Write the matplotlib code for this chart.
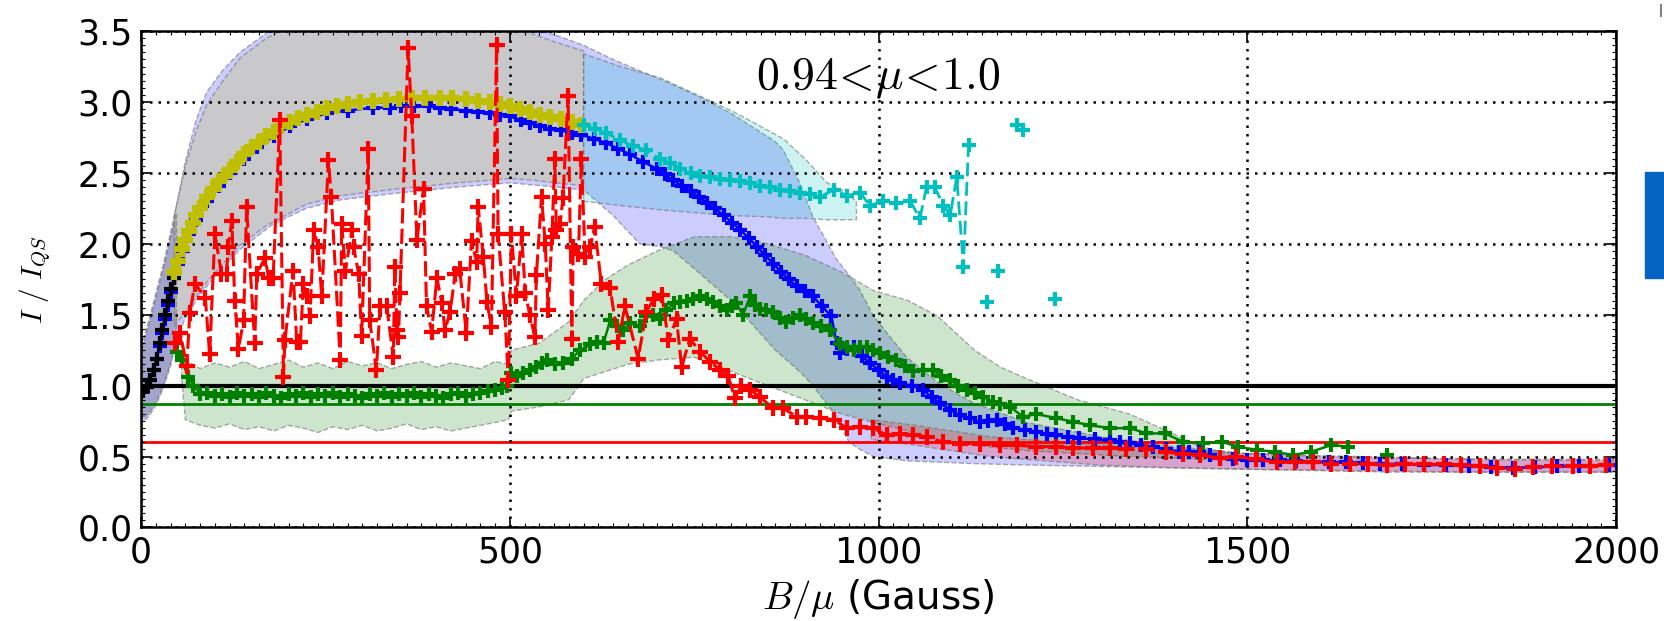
import numpy as np
import matplotlib
matplotlib.use("Agg")
from matplotlib import pyplot as plt
from matplotlib.patches import Rectangle
from matplotlib.lines import Line2D

plt.rcParams['mathtext.fontset'] = 'cm'
plt.rcParams['font.family'] = 'DejaVu Sans'

# ---- data (I/I_QS against B/mu) ----
black_x = [3, 8, 12, 17, 21, 25, 29, 33, 37, 41, 45]
black_y = [0.96, 0.99, 1.04, 1.11, 1.19, 1.30, 1.39, 1.50, 1.60, 1.68, 1.76]

yellow_x = [45, 50, 55, 60, 65, 70, 75, 80, 89, 97, 105, 113, 120, 130, 140, 150,
            160, 170, 180, 190, 202, 213, 225, 238, 252, 265, 280, 297, 315, 332,
            350, 367, 385, 405, 422, 440, 457, 473, 487, 500, 514, 527, 541, 555,
            570, 584, 597]
yellow_y = [1.80, 1.88, 1.96, 2.03, 2.09, 2.15, 2.20, 2.25, 2.33, 2.39, 2.44, 2.48,
            2.52, 2.58, 2.63, 2.68, 2.72, 2.76, 2.79, 2.83, 2.86, 2.89, 2.91, 2.93,
            2.955, 2.97, 2.985, 3.00, 3.01, 3.015, 3.02, 3.025, 3.03, 3.03, 3.025,
            3.02, 3.01, 3.00, 2.985, 2.97, 2.95, 2.93, 2.91, 2.895, 2.88, 2.86, 2.84]

blue_x = [3, 8, 12, 17, 21, 25, 29, 33, 37, 41, 45, 50, 57, 65, 75, 89, 105, 120,
          140, 157, 180, 202, 225, 252, 280, 315, 337, 352, 370, 390, 405, 420, 440,
          457, 473, 487, 500, 515, 527, 541, 555, 570, 584, 597, 614, 631, 647, 663,
          680, 699, 710, 721, 733, 745, 756, 767, 778, 790, 801, 812, 824, 835, 846,
          857, 868, 878, 889, 900, 911, 923, 936, 943, 948, 957, 966, 977, 988, 1000,
          1011, 1020, 1029, 1045, 1060, 1072, 1083, 1097, 1110, 1124, 1137, 1148,
          1160, 1171, 1182, 1198, 1214, 1228, 1241, 1257, 1272, 1293, 1314, 1327,
          1341, 1356, 1372, 1390, 1408, 1421, 1435, 1449, 1463, 1481, 1499, 1521,
          1544, 1566, 1589, 1611, 1634, 1657, 1680, 1710, 1740, 1770, 1800, 1830,
          1860, 1890, 1920, 1950, 1990]
blue_y = [0.96, 0.99, 1.04, 1.11, 1.19, 1.28, 1.37, 1.47, 1.57, 1.66, 1.76, 1.86,
          1.95, 2.07, 2.17, 2.30, 2.41, 2.50, 2.60, 2.68, 2.76, 2.83, 2.88, 2.92,
          2.94, 2.96, 2.96, 2.97, 2.97, 2.97, 2.96, 2.95, 2.94, 2.93, 2.92, 2.91,
          2.90, 2.87, 2.85, 2.83, 2.81, 2.80, 2.78, 2.77, 2.74, 2.71, 2.67, 2.63,
          2.58, 2.53, 2.49, 2.45, 2.41, 2.37, 2.33, 2.29, 2.25, 2.20, 2.15, 2.10,
          2.04, 1.98, 1.92, 1.86, 1.80, 1.75, 1.70, 1.67, 1.63, 1.56, 1.49, 1.30,
          1.23, 1.26, 1.27, 1.21, 1.16, 1.11, 1.06, 1.04, 1.02, 1.00, 0.97, 0.92,
          0.875, 0.83, 0.79, 0.77, 0.745, 0.75, 0.757, 0.73, 0.70, 0.69, 0.675,
          0.66, 0.65, 0.64, 0.63, 0.62, 0.616, 0.60, 0.593, 0.58, 0.57, 0.55, 0.534,
          0.534, 0.534, 0.51, 0.487, 0.48, 0.475, 0.475, 0.475, 0.47, 0.463, 0.46,
          0.46, 0.455, 0.45, 0.445, 0.44, 0.44, 0.43, 0.425, 0.42, 0.425, 0.43,
          0.435, 0.44]

cyan_x = [600, 615, 631, 650, 667, 685, 703, 717, 731, 745, 758, 772, 785, 799,
          812, 826, 839, 853, 866, 880, 893, 907, 920, 939, 957, 975, 988, 1006,
          1024, 1043, 1056, 1065, 1076, 1088, 1097, 1106, 1115, 1122]
cyan_y = [2.84, 2.81, 2.78, 2.73, 2.69, 2.66, 2.60, 2.57, 2.53, 2.50, 2.48, 2.47,
          2.46, 2.45, 2.44, 2.43, 2.41, 2.40, 2.38, 2.37, 2.36, 2.35, 2.33, 2.38,
          2.34, 2.36, 2.27, 2.30, 2.285, 2.30, 2.18, 2.40, 2.40, 2.27, 2.20, 2.47,
          1.84, 2.70]
cyan_pts_x = [1147, 1162, 1187, 1196, 1239]
cyan_pts_y = [1.59, 1.81, 2.84, 2.80, 1.61]

green_x = [48, 55, 64, 71, 80, 90, 100, 110, 120, 130, 140, 150, 160, 170, 180,
           190, 200, 210, 220, 230, 240, 250, 260, 270, 280, 290, 300, 310, 320,
           330, 340, 350, 360, 370, 380, 390, 400, 410, 420, 430, 440, 450, 460,
           470, 480, 490, 496, 502, 510, 518, 527, 536, 543, 550, 561, 572, 584,
           595, 609, 618, 627, 636, 645, 654, 663, 676, 685, 694, 703, 712, 722,
           731, 740, 749, 758, 767, 776, 785, 794, 801, 807, 816, 826, 832, 839,
           848, 857, 866, 875, 884, 893, 902, 911, 922, 934, 948, 957, 966, 975,
           984, 993, 1002, 1013, 1024, 1036, 1047, 1060, 1074, 1085, 1097, 1108,
           1120, 1131, 1142, 1155, 1165, 1178, 1196, 1214, 1241, 1264, 1287, 1314,
           1341, 1363, 1388, 1413, 1440, 1465, 1488, 1513, 1537, 1562, 1587, 1614,
           1637, 1660, 1689]
green_y = [1.24, 1.18, 1.06, 1.00, 0.94, 0.95, 0.93, 0.94, 0.92, 0.95, 0.93, 0.94,
           0.92, 0.95, 0.93, 0.91, 0.94, 0.93, 0.95, 0.92, 0.94, 0.93, 0.95, 0.92,
           0.94, 0.93, 0.91, 0.94, 0.93, 0.95, 0.92, 0.94, 0.93, 0.95, 0.92, 0.94,
           0.93, 0.91, 0.94, 0.95, 0.93, 0.94, 0.95, 0.96, 0.97, 0.98, 1.00, 1.09,
           1.07, 1.09, 1.11, 1.13, 1.16, 1.18, 1.15, 1.16, 1.19, 1.25, 1.29, 1.31,
           1.30, 1.46, 1.42, 1.39, 1.44, 1.42, 1.49, 1.50, 1.47, 1.53, 1.58, 1.59,
           1.60, 1.61, 1.63, 1.61, 1.59, 1.56, 1.53, 1.56, 1.58, 1.50, 1.63, 1.57,
           1.54, 1.53, 1.52, 1.48, 1.45, 1.48, 1.50, 1.47, 1.44, 1.42, 1.39, 1.29,
           1.27, 1.25, 1.27, 1.27, 1.25, 1.23, 1.20, 1.18, 1.14, 1.10, 1.11, 1.11,
           1.07, 1.04, 1.00, 0.97, 0.95, 0.92, 0.886, 0.87, 0.851, 0.78, 0.80, 0.77,
           0.745, 0.72, 0.70, 0.70, 0.663, 0.663, 0.604, 0.593, 0.604, 0.569, 0.546,
           0.534, 0.51, 0.534, 0.581, 0.569, np.nan, 0.51]

red_x = [46, 53, 62, 66, 73, 87, 93, 100, 109, 116, 118, 123, 127, 132, 139, 143,
         154, 157, 168, 173, 179, 188, 193, 195, 206, 211, 216, 220, 225, 229, 234,
         240, 245, 254, 258, 270, 272, 277, 286, 288, 295, 299, 308, 310, 319, 324,
         333, 342, 344, 347, 349, 351, 362, 367, 374, 383, 387, 394, 401, 408, 412,
         419, 426, 432, 441, 448, 455, 457, 464, 469, 475, 482, 484, 493, 498, 502,
         509, 516, 521, 527, 534, 536, 543, 548, 552, 557, 561, 563, 568, 572, 579,
         584, 586, 593, 597, 602, 609, 615, 624, 636, 647, 656, 674, 685, 695, 706,
         715, 726, 733, 744, 758, 771, 785, 796, 805, 814, 826, 839, 857, 871, 889,
         902, 920, 939, 957, 975, 993, 1011, 1029, 1047, 1065, 1088, 1110, 1137,
         1164, 1187, 1214, 1241, 1264, 1291, 1314, 1336, 1363, 1390, 1413, 1436,
         1463, 1485, 1512, 1540, 1564, 1589, 1614, 1639, 1664, 1689, 1714, 1740,
         1766, 1790, 1815, 1838, 1863, 1888, 1913, 1942, 1965, 1987]
red_y = [1.30, 1.37, 1.14, 1.51, 1.72, 1.62, 1.22, 2.07, 1.79, 1.79, 1.98, 2.16,
         1.60, 1.26, 1.46, 2.26, 1.30, 1.79, 1.90, 1.76, 1.76, 2.87, 1.06, 1.32,
         1.81, 1.31, 1.31, 1.72, 1.63, 1.49, 2.10, 1.98, 1.63, 2.59, 2.33, 1.18,
         2.14, 1.81, 2.10, 1.98, 1.79, 1.35, 2.67, 1.46, 1.11, 1.56, 1.56, 1.20,
         1.84, 1.39, 1.34, 1.65, 3.38, 2.90, 2.03, 2.39, 1.56, 1.38, 1.76, 1.58,
         1.39, 1.52, 1.79, 1.82, 1.37, 2.02, 1.87, 2.26, 1.91, 1.59, 1.41, 3.40,
         2.07, 1.52, 1.04, 2.07, 1.63, 2.07, 1.65, 1.50, 1.34, 1.78, 2.33, 2.00,
         1.53, 2.05, 2.60, 2.10, 2.14, 2.32, 3.04, 1.33, 1.98, 1.93, 2.60, 1.91,
         1.98, 2.12, 1.72, 1.69, 1.31, 1.56, 1.19, 1.52, 1.61, 1.64, 1.32, 1.47,
         1.13, 1.33, 1.24, 1.17, 1.11, 1.07, 0.91, 1.00, 0.97, 0.92, 0.84, 0.84,
         0.78, 0.78, 0.77, 0.76, 0.70, 0.71, 0.70, 0.65, 0.66, 0.65, 0.64, 0.60,
         0.59, 0.59, 0.58, 0.58, 0.57, 0.57, 0.56, 0.56, 0.56, 0.55, 0.55, 0.53,
         0.52, 0.51, 0.49, 0.50, 0.48, 0.46, 0.46, 0.46, 0.45, 0.45, 0.45, 0.44,
         0.445, 0.445, 0.445, 0.44, 0.43, 0.42, 0.415, 0.425, 0.43, 0.43, 0.435,
         0.44]

# spread bands (lower / upper envelopes)
black_band_x = [0, 10, 20, 30, 40, 48]
black_band_lo = [0.76, 0.80, 0.88, 1.00, 1.16, 1.34]
black_band_hi = [1.25, 1.42, 1.62, 1.82, 2.05, 2.22]

blue_band_x = [0, 10, 20, 30, 40, 48, 60, 75, 89, 110, 134, 179, 224, 270, 351,
               428, 500, 563, 600, 640, 676, 704, 722, 760, 800, 860, 871, 893,
               911, 943, 960, 975, 993, 1038, 1083, 1128, 1200, 1300, 1400, 1500,
               1650, 1800, 2000]
blue_band_lo = [0.74, 0.78, 0.86, 0.98, 1.14, 1.32, 1.48, 1.60, 1.70, 1.83, 1.96,
                2.14, 2.25, 2.31, 2.36, 2.40, 2.43, 2.40, 2.38, 2.20, 2.00, 1.98,
                1.95, 1.78, 1.60, 1.25, 1.20, 1.10, 1.00, 0.78, 0.60, 0.55, 0.50,
                0.47, 0.46, 0.45, 0.44, 0.43, 0.42, 0.41, 0.40, 0.39, 0.39]
blue_band_hi = [1.28, 1.45, 1.65, 1.85, 2.08, 2.27, 2.58, 2.88, 3.07, 3.22, 3.35,
                3.52, 3.62, 3.70, 3.70, 3.65, 3.56, 3.47, 3.40, 3.30, 3.22, 3.16,
                3.12, 3.03, 2.92, 2.72, 2.66, 2.43, 2.19, 1.89, 1.78, 1.67, 1.49,
                1.20, 1.01, 0.88, 0.74, 0.64, 0.57, 0.52, 0.50, 0.48, 0.47]

yellow_band_x = [45, 60, 75, 89, 111, 134, 170, 224, 270, 351, 428, 500, 530, 563,
                 600]
yellow_band_lo = [1.42, 1.52, 1.63, 1.73, 1.86, 1.99, 2.13, 2.28, 2.34, 2.39, 2.43,
                  2.46, 2.45, 2.43, 2.41]
yellow_band_hi = [2.20, 2.55, 2.80, 2.98, 3.15, 3.31, 3.45, 3.60, 3.65, 3.65, 3.60,
                  3.55, 3.48, 3.42, 3.36]

cyan_band_x = [600, 650, 704, 750, 800, 850, 871, 902, 930, 950, 970]
cyan_band_lo = [2.30, 2.27, 2.24, 2.22, 2.20, 2.19, 2.18, 2.18, 2.17, 2.17, 2.17]
cyan_band_hi = [3.34, 3.25, 3.17, 3.06, 2.94, 2.80, 2.74, 2.59, 2.43, 2.38, 2.30]

green_band_x = [55, 60, 80, 100, 120, 140, 160, 180, 200, 220, 240, 260, 280, 300,
                320, 340, 360, 380, 400, 420, 440, 460, 480, 498, 502, 540, 580,
                600, 630, 660, 700, 750, 800, 850, 900, 950, 993, 1040, 1080, 1130,
                1165, 1205, 1270, 1340, 1400, 1430, 1460, 1490]
green_band_lo = [1.05, 0.76, 0.72, 0.70, 0.73, 0.69, 0.71, 0.68, 0.72, 0.70, 0.67,
                 0.71, 0.69, 0.72, 0.68, 0.70, 0.73, 0.69, 0.71, 0.68, 0.70, 0.72,
                 0.74, 0.76, 0.82, 0.85, 0.90, 1.05, 1.10, 1.15, 1.18, 1.20, 1.10,
                 1.00, 0.90, 0.80, 0.74, 0.68, 0.62, 0.58, 0.56, 0.54, 0.52, 0.50,
                 0.49, 0.48, 0.48, 0.48]
green_band_hi = [1.30, 1.18, 1.12, 1.16, 1.13, 1.17, 1.12, 1.15, 1.18, 1.13, 1.16,
                 1.12, 1.17, 1.14, 1.16, 1.12, 1.15, 1.17, 1.13, 1.16, 1.14, 1.12,
                 1.17, 1.15, 1.25, 1.30, 1.45, 1.60, 1.75, 1.85, 1.95, 2.05, 2.05,
                 2.00, 1.92, 1.80, 1.67, 1.60, 1.49, 1.25, 1.13, 1.04, 0.90, 0.80,
                 0.66, 0.58, 0.54, 0.52]

red_band_x = [990, 1050, 1100, 1150, 1200, 1250, 1300, 1400, 1500, 1600, 1700,
              1850, 2000]
red_band_lo = [0.62, 0.58, 0.54, 0.50, 0.48, 0.46, 0.44, 0.42, 0.41, 0.40, 0.39,
               0.39, 0.39]
red_band_hi = [0.76, 0.72, 0.68, 0.64, 0.62, 0.60, 0.58, 0.55, 0.52, 0.50, 0.49,
               0.48, 0.48]

# reference levels
level_black = 1.0
level_green = 0.87
level_red = 0.6

x_ticks = [0, 500, 1000, 1500, 2000]
y_ticks = [0.0, 0.5, 1.0, 1.5, 2.0, 2.5, 3.0, 3.5]

# ---- plotting ----
fig = plt.figure(figsize=(16.64, 6.21), dpi=100)
ax = fig.add_axes([0.0848, 0.1507, 0.8864, 0.7992])

edge = (0.45, 0.45, 0.45, 0.6)
bands = [
    (blue_band_x, blue_band_lo, blue_band_hi, 'b'),
    (black_band_x, black_band_lo, black_band_hi, 'k'),
    (yellow_band_x, yellow_band_lo, yellow_band_hi, 'y'),
    (cyan_band_x, cyan_band_lo, cyan_band_hi, 'c'),
    (green_band_x, green_band_lo, green_band_hi, 'g'),
    (red_band_x, red_band_lo, red_band_hi, 'r'),
]
for bx, lo, hi, c in bands:
    fc = matplotlib.colors.to_rgba(c, 0.2)
    ax.fill_between(bx, lo, hi, facecolor=fc, edgecolor=edge,
                    linestyle='--', linewidth=1.0, zorder=1)

ax.axhline(level_black, color='k', lw=3, zorder=2)
ax.axhline(level_green, color='g', lw=2, zorder=2)
ax.axhline(level_red, color='r', lw=2, zorder=2)

mk = dict(marker='+', markersize=10, markeredgewidth=3)
ax.plot(blue_x, blue_y, '-', color='b', lw=1.8, zorder=3, **mk)
ax.plot(black_x, black_y, '-', color='k', lw=1.8, zorder=4, **mk)
ax.plot(yellow_x, yellow_y, '-', color='y', lw=2, zorder=4,
        marker='+', markersize=12, markeredgewidth=4.5)
ax.plot(cyan_x, cyan_y, color='c', lw=2, linestyle=(0, (5, 2)), zorder=4, **mk)
ax.plot(cyan_pts_x, cyan_pts_y, linestyle='none', color='c', zorder=4, **mk)
ax.plot(green_x, green_y, '-', color='g', lw=1.8, zorder=5, **mk)
ax.plot(red_x, red_y, color='r', lw=2.2, linestyle=(0, (5, 1.7)), zorder=6,
        marker='+', markersize=11, markeredgewidth=3)

ax.text(1000, 3.17, r'$0.94\!<\!\mu\!<\!1.0$', fontsize=33, ha='center',
        va='center', zorder=7)

ax.set_xlim(0, 2000)
ax.set_ylim(0, 3.5)
ax.set_xticks(x_ticks)
ax.set_yticks(y_ticks)
ax.set_xticks(np.arange(0, 2001, 20), minor=True)
ax.set_yticks(np.arange(0, 3.51, 0.05), minor=True)
ax.tick_params(which='both', direction='in', top=True, right=True,
               labelsize=25)
ax.tick_params(which='major', length=7, width=1.2, pad=6)
ax.tick_params(which='minor', length=3, width=0.8)
ax.grid(True, which='major', color='k', linestyle=(0, (1, 2.4)), linewidth=1.8)
for s in ax.spines.values():
    s.set_linewidth(1.8)
ax.set_axisbelow(False)

ax.set_xlabel(r'$B/\mu$ (Gauss)', fontsize=28)
ax.xaxis.set_label_coords(0.5, -0.1)
ax.set_ylabel(r'$I\ /\ I_{QS}$', fontsize=21)
ax.yaxis.set_label_coords(-0.06, 0.5)

# small marks at the right edge of the canvas
fig.patches.append(Rectangle((1645 / 1664, 1 - 278 / 621), 19 / 1664, 106 / 621,
                             transform=fig.transFigure, color='#0563c1'))
fig.lines.append(Line2D([1661 / 1664, 1661 / 1664], [1 - 5 / 621, 1 - 16 / 621],
                        transform=fig.transFigure, color='0.5', lw=1.5))

fig.savefig('out.png', dpi=100)
